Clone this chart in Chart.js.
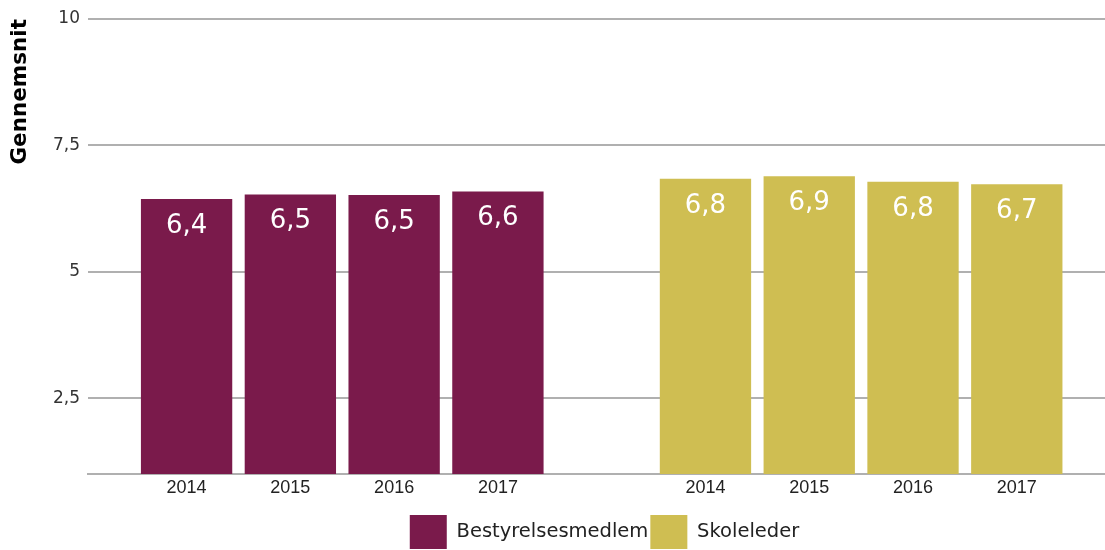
<!DOCTYPE html>
<html>
<head>
<meta charset="utf-8">
<script src="https://cdn.jsdelivr.net/npm/chart.js@4/dist/chart.umd.min.js"></script>
<style>
  html, body { margin: 0; padding: 0; background: #fff; }
  #wrap { width: 1105px; height: 550px; position: relative; }
</style>
</head>
<body>
<div id="wrap"><canvas id="chart"></canvas></div>
<script>
const years = ["2014", "2015", "2016", "2017"];
const groups = ["Bestyrelsesmedlem", "Skoleleder"];
const bestyrelsesmedlem = [6.44, 6.53, 6.52, 6.59];
const skoleleder = [6.84, 6.89, 6.78, 6.73];
const yTicks = [2.5, 5, 7.5, 10];
const colors = ["#7a1a4b", "#cfbe52"];

// B bars sit at slots 0-3, S bars at 5-8 (slot 4 is the gap between groups)
const xSlots = [];
years.forEach((y, i) => xSlots.push(i));
years.forEach((y, i) => xSlots.push(i + years.length + 1));
const slotLabel = (v) => years[v % (years.length + 1)];

const comma = (v, d) => (d == null ? String(v) : v.toFixed(d)).replace(".", ",");

const valueLabels = {
  id: "valueLabels",
  afterDatasetsDraw(chart) {
    const ctx = chart.ctx;
    ctx.save();
    ctx.fillStyle = "#ffffff";
    ctx.font = "26px 'DejaVu Sans'";
    ctx.textAlign = "center";
    ctx.textBaseline = "middle";
    chart.data.datasets.forEach((ds, di) => {
      chart.getDatasetMeta(di).data.forEach((bar, i) => {
        ctx.fillText(comma(ds.data[i].y, 1), bar.x, bar.y + 27);
      });
    });
    ctx.restore();
  },
};

// legend in the reference sits a bit right of the canvas centre
const legendShift = {
  id: "legendShift",
  afterLayout(chart) {
    chart.legend.left += 52;
    chart.legend.right += 52;
  },
};

const ctx = document.getElementById("chart").getContext("2d");
new Chart(ctx, {
  type: "bar",
  data: {
    datasets: [
      {
        label: groups[0],
        data: bestyrelsesmedlem.map((v, i) => ({ x: xSlots[i], y: v })),
        backgroundColor: colors[0],
      },
      {
        label: groups[1],
        data: skoleleder.map((v, i) => ({ x: xSlots[i + years.length], y: v })),
        backgroundColor: colors[1],
      },
    ],
  },
  options: {
    responsive: true,
    maintainAspectRatio: false,
    animation: false,
    barPercentage: 0.88,
    categoryPercentage: 1,
    layout: { padding: { top: 19, right: 0, left: 0, bottom: -9 } },
    plugins: {
      legend: {
        position: "bottom",
        labels: {
          boxWidth: 37,
          boxHeight: 34,
          padding: 2,
          color: "#222",
          font: { family: "'DejaVu Sans'", size: 19.5 },
        },
      },
      tooltip: { enabled: false },
    },
    scales: {
      x: {
        type: "linear",
        stacked: true,
        offset: false,
        min: -0.95,
        max: 8.85,
        afterBuildTicks: (scale) => {
          scale.ticks = xSlots.map((v) => ({ value: v }));
        },
        afterFit: (scale) => {
          scale.height = 39;
        },
        ticks: {
          padding: 3,
          color: "#222",
          font: { family: "'Liberation Sans'", size: 18 },
          callback: (v) => slotLabel(v),
          autoSkip: false,
          maxRotation: 0,
        },
        grid: { display: false, drawTicks: false },
        border: { display: true, color: "#b0b0b0", width: 2 },
      },
      y: {
        min: 1,
        max: 10,
        afterBuildTicks: (scale) => {
          scale.ticks = yTicks.map((v) => ({ value: v }));
        },
        afterFit: (scale) => {
          scale.width = 88;
        },
        ticks: {
          padding: 8,
          color: "#333",
          font: { family: "'DejaVu Sans'", size: 17 },
          callback: (v) => comma(v),
        },
        grid: { color: "#b0b0b0", lineWidth: 2, drawTicks: false },
        border: { display: false },
        title: {
          display: true,
          text: "Gennemsnit",
          align: "end",
          color: "#000",
          font: { family: "'DejaVu Sans'", size: 21.5, weight: "bold" },
          padding: { top: 8, bottom: 0 },
        },
      },
    },
  },
  plugins: [valueLabels, legendShift],
});
</script>
</body>
</html>
